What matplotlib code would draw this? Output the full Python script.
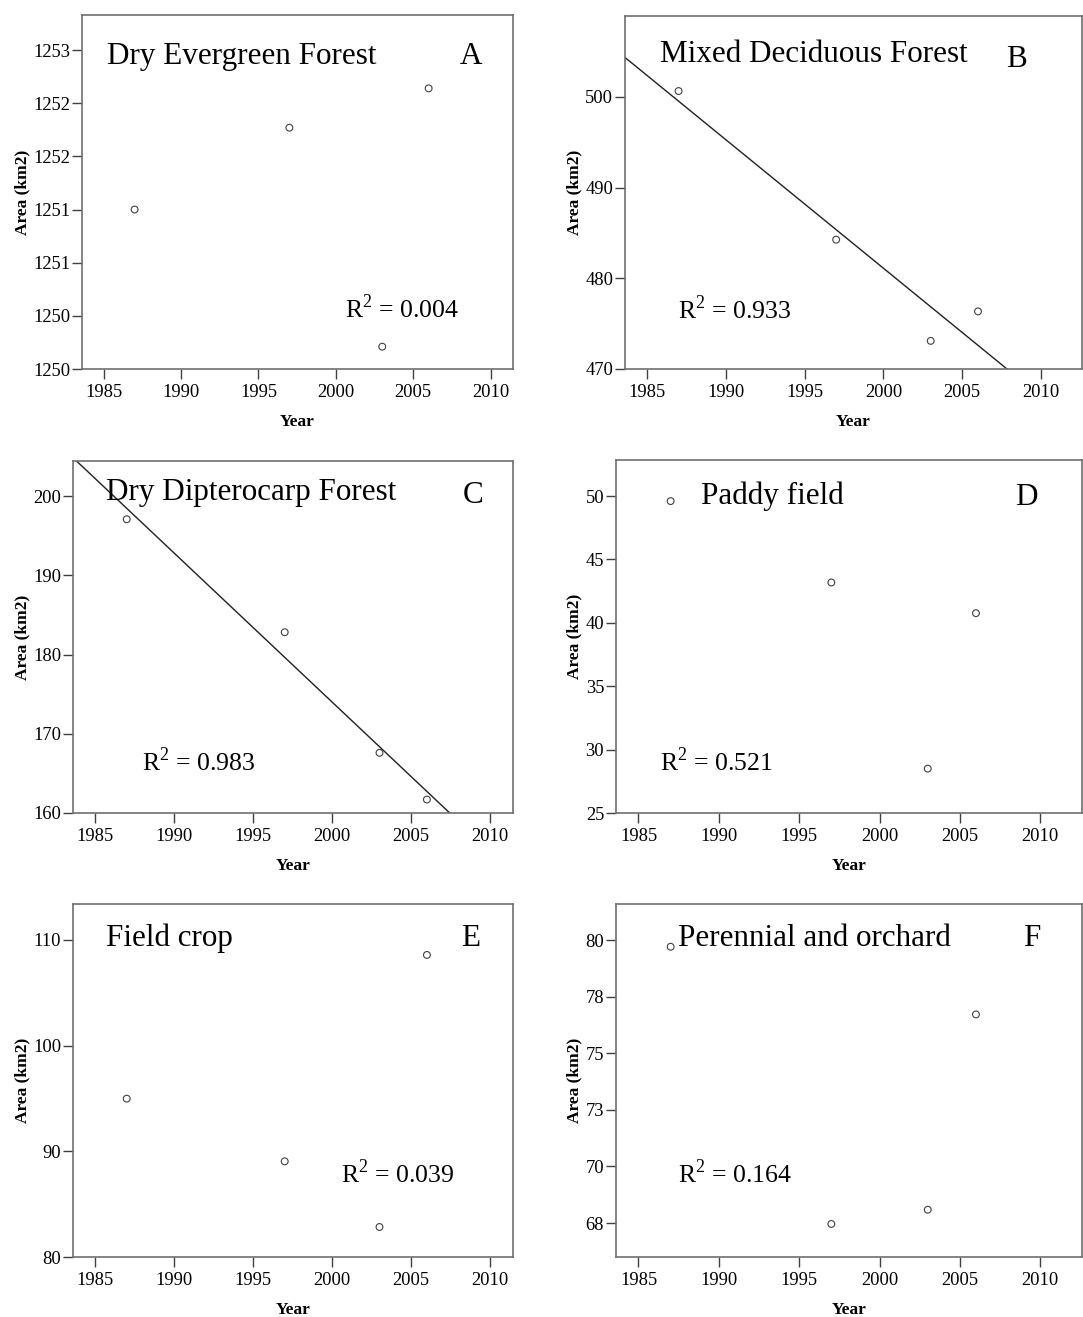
import matplotlib
matplotlib.use("Agg")
import matplotlib.pyplot as plt
import numpy as np
from matplotlib.ticker import FuncFormatter

plt.rcParams["font.family"] = ["Liberation Serif", "DejaVu Serif"]
plt.rcParams["mathtext.fontset"] = "custom"
plt.rcParams["mathtext.rm"] = "Liberation Serif"

# Survey years, shared by every panel
years = [1987, 1997, 2003, 2006]

# Land-use areas (km2)
dry_evergreen = [1251.0, 1251.77, 1249.71, 1252.14]
mixed_deciduous = [500.63, 484.25, 473.1, 476.35]
dry_dipterocarp = [197.1, 182.83, 167.6, 161.7]
paddy_field = [49.6, 43.18, 28.5, 40.76]
field_crop = [94.98, 89.05, 82.84, 108.58]
perennial = [79.71, 67.46, 68.09, 76.72]

panel_names = ["Dry Evergreen Forest", "Mixed Deciduous Forest",
               "Dry Dipterocarp Forest", "Paddy field", "Field crop",
               "Perennial and orchard"]
panel_letters = ["A", "B", "C", "D", "E", "F"]
r_squared = ["0.004", "0.933", "0.983", "0.521", "0.039", "0.164"]
show_fit = [False, True, True, False, False, False]

x_ticks = [1985, 1990, 1995, 2000, 2005, 2010]
y_ticks = [
    [1249.5, 1250.0, 1250.5, 1251.0, 1251.5, 1252.0, 1252.5],
    [470, 480, 490, 500],
    [160, 170, 180, 190, 200],
    [25, 30, 35, 40, 45, 50],
    [80, 90, 100, 110],
    [67.5, 70, 72.5, 75, 77.5, 80],
]
y_limits = [(1249.5, 1252.83), (470, 508.9), (160, 204.46),
            (25, 52.84), (80, 113.4), (66.0, 81.6)]

series = [dry_evergreen, mixed_deciduous, dry_dipterocarp,
          paddy_field, field_crop, perennial]

W, H = 1083, 1317
# axes boxes in pixels: left, top, right, bottom
boxes = [(82, 15, 513, 369), (625, 16, 1082, 369),
         (73, 461, 513, 813), (616, 460, 1082, 813),
         (73, 904, 513, 1257), (616, 904, 1082, 1257)]
# text anchors in axes fraction (title, letter, R2)
title_pos = [(0.058, 0.862), (0.077, 0.870), (0.076, 0.888),
             (0.182, 0.875), (0.076, 0.881), (0.134, 0.881)]
letter_pos = [(0.877, 0.862), (0.834, 0.856), (0.886, 0.881),
              (0.856, 0.872), (0.882, 0.881), (0.874, 0.881)]
r2_pos = [(0.61, 0.143), (0.117, 0.143), (0.156, 0.121),
          (0.094, 0.118), (0.609, 0.211), (0.134, 0.210)]

spine_col = "#707070"
half_up = FuncFormatter(lambda v, p: f"{int(np.floor(v + 0.5))}")

fig = plt.figure(figsize=(W / 100, H / 100), dpi=100)

for i in range(6):
    l, t, r, b = boxes[i]
    ax = fig.add_axes((l / W, 1 - b / H, (r - l) / W, (b - t) / H))
    xlim = (1983.6, 2011.45) if i % 2 == 0 else (1983.6, 2012.6)

    ax.scatter(years, series[i], s=24, facecolors="none",
               edgecolors="#404040", linewidths=0.8, zorder=3)

    if show_fit[i]:
        slope, icpt = np.polyfit(years, series[i], 1)
        xs = np.array(xlim)
        ax.plot(xs, slope * xs + icpt, color="#202020", lw=1.0)

    ax.set_xlim(*xlim)
    ax.set_ylim(*y_limits[i])
    ax.set_xticks(x_ticks)
    ax.set_yticks(y_ticks[i])
    ax.yaxis.set_major_formatter(half_up)

    for s in ax.spines.values():
        s.set_color(spine_col)
        s.set_linewidth(1.2)
    ax.tick_params(direction="out", length=7, width=1.0, color="#404040",
                   labelsize=13.3, pad=1.5)
    ax.tick_params(axis="x", pad=4)

    ax.set_xlabel("Year", fontsize=12.5, fontweight="bold", labelpad=9)
    ax.set_ylabel("Area (km2)", fontsize=12.5, fontweight="bold", labelpad=2)

    tx, ty = title_pos[i]
    ax.text(tx, ty, panel_names[i], transform=ax.transAxes,
            fontsize=22.4, va="baseline", ha="left")
    lx, ly = letter_pos[i]
    ax.text(lx, ly, panel_letters[i], transform=ax.transAxes,
            fontsize=22.4, va="baseline", ha="left")
    rx, ry = r2_pos[i]
    ax.text(rx, ry, "R$^{2}$ = " + r_squared[i], transform=ax.transAxes,
            fontsize=18.5, va="baseline", ha="left")

fig.savefig("out.png", dpi=100)
